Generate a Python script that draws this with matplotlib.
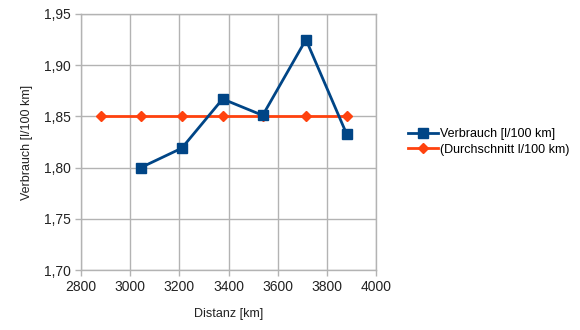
import matplotlib.pyplot as plt
from matplotlib.ticker import FuncFormatter

plt.rcParams['font.family'] = ['Liberation Sans', 'DejaVu Sans']

# distance readings and consumption per leg
distanz = [3043, 3210, 3376, 3539, 3715, 3881]
verbrauch = [1.800, 1.819, 1.867, 1.851, 1.925, 1.8325]

# average line, one point more at the start
distanz_avg = [2883, 3043, 3210, 3376, 3539, 3715, 3881]
durchschnitt = [1.85] * len(distanz_avg)

blue = '#004586'
orange = '#ff420e'
grid_col = '#b3b3b3'

fig = plt.figure(figsize=(5.8, 3.3), dpi=100)
ax = fig.add_axes([0.1397, 0.1818, 0.5086, 0.7758])

ax.plot(distanz, verbrauch, color=blue, lw=2.0, marker='s', ms=7,
        label='Verbrauch [l/100 km]', zorder=4)
ax.plot(distanz_avg, durchschnitt, color=orange, lw=2.0, marker='D', ms=5,
        label='(Durchschnitt l/100 km)', zorder=3)

ax.set_xlim(2800, 4000)
ax.set_ylim(1.70, 1.95)
ax.set_xticks(range(2800, 4001, 200))
ax.set_yticks([1.70, 1.75, 1.80, 1.85, 1.90, 1.95])
ax.yaxis.set_major_formatter(FuncFormatter(lambda v, p: f'{v:.2f}'.replace('.', ',')))

ax.grid(True, color=grid_col, lw=1)
ax.set_axisbelow(True)
for s in ax.spines.values():
    s.set_color(grid_col)
    s.set_linewidth(1)
ax.tick_params(colors=grid_col, labelcolor='#222222', labelsize=10,
               length=4, width=1, direction='out')

ax.set_xlabel('Distanz [km]', fontsize=9, color='#222222', labelpad=10)
ax.set_ylabel('Verbrauch [l/100 km]', fontsize=9, color='#222222', labelpad=8)

ax.legend(loc='center left', bbox_to_anchor=(1.07, 0.5), frameon=False,
          fontsize=9, handlelength=2.4, handletextpad=0.2, labelspacing=0.3)

fig.savefig('out.png', dpi=100)
